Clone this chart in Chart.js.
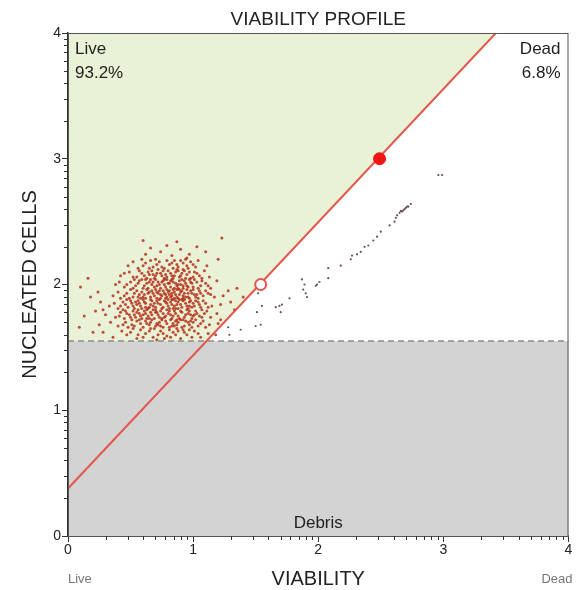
<!DOCTYPE html>
<html>
<head>
<meta charset="utf-8">
<script src="https://cdn.jsdelivr.net/npm/chart.js@4.4.0/dist/chart.umd.min.js"></script>
<style>
  body { margin: 0; background: #fff; }
  #wrap { width: 576px; height: 590px; }
</style>
</head>
<body>
<div id="wrap"><canvas id="viab"></canvas></div>
<script>
// valores
const majorTicks = [0, 1, 2, 3, 4];
const minorOffsets = [0.301, 0.477, 0.602, 0.699, 0.778, 0.845, 0.903, 0.954];
const debrisGate = 1.55;
const gateLine = [[0, 0.378], [3.42, 4]];
const gateOpen = [[1.54, 2.0]];
const gateFilled = [[2.49, 3.0]];
const regionText = { live: ['Live', '93.2%'], dead: ['Dead', '6.8%'], debris: 'Debris' };

const livePts = [
  [0.36,1.58],[0.47,1.60],[0.55,1.57],[0.62,1.61],[0.68,1.58],[0.74,1.63],[0.79,1.59],[0.84,1.62],[0.90,1.57],[0.95,1.60],
  [1.01,1.63],[1.06,1.58],[0.58,1.64],[0.71,1.56],[0.87,1.65],[0.66,1.65],[0.97,1.64],[0.43,1.63],[1.12,1.61],[0.52,1.65],
  [0.77,1.57],[0.93,1.62],[0.81,1.64],[0.28,1.62],[1.18,1.60],
  [0.40,1.67],[0.46,1.70],[0.51,1.68],[0.55,1.71],[0.60,1.66],[0.63,1.69],[0.67,1.72],[0.70,1.67],[0.73,1.70],[0.76,1.66],
  [0.79,1.69],[0.82,1.72],[0.85,1.67],[0.88,1.70],[0.91,1.66],[0.94,1.71],[0.97,1.68],[1.00,1.70],[1.04,1.67],[1.08,1.71],
  [1.13,1.68],[0.57,1.72],[0.65,1.68],[0.75,1.72],[0.86,1.71],[0.99,1.66],[0.48,1.66],[0.34,1.70],[1.20,1.69],[0.71,1.69],[0.83,1.67],
  [0.30,1.76],[0.38,1.74],[0.42,1.78],[0.45,1.73],[0.49,1.76],[0.52,1.79],[0.54,1.74],[0.57,1.77],[0.59,1.73],[0.61,1.79],
  [0.64,1.75],[0.66,1.78],[0.69,1.73],[0.72,1.76],[0.74,1.79],[0.77,1.74],[0.80,1.77],[0.83,1.73],[0.85,1.79],[0.88,1.75],
  [0.91,1.78],[0.93,1.74],[0.96,1.77],[0.99,1.73],[1.02,1.79],[1.05,1.75],[1.09,1.77],[1.14,1.74],[0.50,1.74],[0.56,1.80],
  [0.63,1.73],[0.68,1.80],[0.79,1.80],[0.87,1.72],[0.95,1.80],[1.01,1.76],[0.46,1.79],[0.60,1.76],[0.71,1.78],[0.82,1.76],
  [0.92,1.72],[1.07,1.80],[0.22,1.79],[1.19,1.77],
  [0.33,1.83],[0.40,1.81],[0.44,1.86],[0.48,1.82],[0.51,1.85],[0.53,1.81],[0.56,1.87],[0.58,1.83],[0.62,1.85],[0.64,1.81],
  [0.67,1.87],[0.70,1.82],[0.72,1.85],[0.75,1.81],[0.77,1.87],[0.80,1.83],[0.82,1.86],[0.84,1.81],[0.87,1.84],[0.89,1.88],
  [0.91,1.82],[0.94,1.85],[0.96,1.81],[0.98,1.87],[1.01,1.83],[1.04,1.86],[1.06,1.82],[1.10,1.85],[1.15,1.83],[0.55,1.84],
  [0.60,1.88],[0.66,1.84],[0.73,1.88],[0.79,1.85],[0.86,1.87],[0.93,1.88],[1.00,1.85],[0.69,1.85],[0.83,1.84],[0.97,1.83],
  [0.47,1.88],[0.26,1.86],[1.22,1.84],[0.62,1.82],[0.88,1.81],
  [0.36,1.91],[0.42,1.89],[0.47,1.93],[0.52,1.90],[0.55,1.95],[0.58,1.89],[0.61,1.92],[0.63,1.96],[0.66,1.90],[0.68,1.93],
  [0.71,1.89],[0.73,1.95],[0.75,1.91],[0.78,1.89],[0.80,1.94],[0.82,1.90],[0.84,1.96],[0.86,1.92],[0.88,1.89],[0.90,1.94],
  [0.92,1.91],[0.95,1.96],[0.97,1.89],[0.99,1.93],[1.02,1.90],[1.05,1.95],[1.08,1.91],[1.12,1.93],[0.65,1.94],[0.70,1.96],
  [0.77,1.93],[0.83,1.93],[0.89,1.96],[0.94,1.90],[1.00,1.96],[0.57,1.92],[0.74,1.89],[0.81,1.92],[0.87,1.90],[0.91,1.88],
  [0.79,1.96],[1.17,1.90],[0.50,1.96],[0.60,1.90],[0.85,1.89],[0.96,1.93],[1.03,1.92],[0.24,1.94],[1.24,1.91],
  [0.38,2.00],[0.45,1.98],[0.50,2.02],[0.54,1.99],[0.57,2.03],[0.60,1.97],[0.63,2.01],[0.66,2.04],[0.69,1.98],[0.72,2.02],
  [0.74,1.97],[0.77,2.00],[0.79,2.04],[0.82,1.98],[0.84,2.02],[0.87,1.99],[0.89,2.03],[0.92,1.97],[0.94,2.01],[0.97,2.04],
  [1.00,1.98],[1.03,2.02],[1.06,1.99],[1.10,2.01],[0.67,2.00],[0.76,2.03],[0.85,1.97],[0.91,2.04],[0.99,2.01],[0.81,2.01],
  [0.88,2.00],[0.71,1.99],[0.62,2.04],[1.14,1.97],[0.95,1.99],[0.53,2.04],[1.19,2.03],[0.16,2.05],
  [0.42,2.07],[0.49,2.10],[0.55,2.06],[0.59,2.09],[0.63,2.05],[0.67,2.11],[0.70,2.07],[0.74,2.09],[0.77,2.05],[0.80,2.11],
  [0.83,2.07],[0.86,2.10],[0.89,2.06],[0.92,2.12],[0.95,2.08],[0.98,2.05],[1.01,2.10],[1.05,2.07],[1.09,2.11],[0.72,2.12],
  [0.84,2.05],[0.91,2.09],[0.78,2.08],[0.65,2.08],[1.13,2.06],[0.87,2.12],
  [0.48,2.15],[0.56,2.13],[0.62,2.17],[0.68,2.14],[0.73,2.18],[0.77,2.13],[0.81,2.16],[0.85,2.19],[0.88,2.14],[0.92,2.17],
  [0.96,2.13],[1.00,2.16],[1.04,2.19],[0.70,2.20],[0.84,2.13],[0.94,2.20],[1.11,2.15],[0.59,2.20],
  [0.62,2.24],[0.74,2.26],[0.83,2.23],[0.90,2.28],[0.97,2.24],[1.03,2.30],[0.79,2.31],[0.66,2.29],[1.10,2.26],[0.87,2.34],
  [0.60,2.35],[1.23,2.37],[0.95,2.21],
  [0.10,1.98],[0.13,1.75],[0.20,1.62],[0.09,1.66],[0.18,1.90],[0.28,1.80],[0.25,1.68],
  [1.22,1.72],[1.30,1.86],[1.33,1.80],[1.28,1.95],[1.20,2.20],[1.35,1.97],[1.40,1.90],
  // segunda pasada, nucleo denso
  [0.50,1.62],[0.60,1.58],[0.65,1.63],[0.72,1.60],[0.82,1.58],[0.86,1.60],[0.92,1.64],[0.99,1.58],[1.04,1.61],[0.76,1.61],
  [0.56,1.60],[0.88,1.63],
  [0.44,1.68],[0.53,1.67],[0.58,1.69],[0.62,1.71],[0.69,1.65],[0.72,1.68],[0.78,1.71],[0.81,1.66],[0.84,1.69],[0.90,1.72],
  [0.93,1.67],[0.96,1.70],[1.02,1.72],[1.06,1.69],[1.10,1.66],[0.74,1.67],[0.87,1.68],[0.66,1.70],[0.98,1.71],
  [0.41,1.75],[0.47,1.77],[0.53,1.76],[0.55,1.78],[0.58,1.75],[0.62,1.77],[0.65,1.73],[0.67,1.76],[0.70,1.78],[0.73,1.74],
  [0.76,1.77],[0.78,1.75],[0.81,1.79],[0.84,1.75],[0.86,1.77],[0.89,1.73],[0.90,1.79],[0.94,1.76],[0.97,1.79],[1.00,1.75],
  [1.03,1.77],[1.07,1.74],[1.11,1.79],[0.51,1.72],[0.75,1.73],[0.98,1.76],[0.44,1.80],[0.63,1.80],
  [0.37,1.85],[0.42,1.83],[0.46,1.84],[0.50,1.87],[0.52,1.83],[0.57,1.85],[0.59,1.81],[0.61,1.86],[0.65,1.82],[0.68,1.83],
  [0.71,1.87],[0.74,1.84],[0.76,1.82],[0.78,1.86],[0.81,1.81],[0.83,1.88],[0.85,1.83],[0.88,1.86],[0.90,1.84],[0.92,1.87],
  [0.95,1.83],[0.97,1.86],[0.99,1.82],[1.02,1.87],[1.05,1.84],[1.08,1.87],[1.12,1.82],[0.54,1.86],[0.70,1.80],[0.86,1.81],[0.80,1.88],
  [0.40,1.94],[0.45,1.91],[0.49,1.89],[0.53,1.93],[0.56,1.90],[0.59,1.94],[0.62,1.89],[0.64,1.93],[0.67,1.95],[0.69,1.91],
  [0.72,1.93],[0.74,1.92],[0.76,1.95],[0.78,1.92],[0.81,1.95],[0.83,1.91],[0.85,1.94],[0.87,1.96],[0.89,1.92],[0.91,1.95],
  [0.93,1.93],[0.96,1.90],[0.98,1.95],[1.01,1.92],[1.04,1.89],[1.06,1.93],[1.10,1.95],[1.14,1.92],[0.66,1.88],[0.79,1.90],
  [0.92,1.89],[0.84,1.88],[0.71,1.94],
  [0.41,2.02],[0.47,2.00],[0.52,1.97],[0.56,2.01],[0.59,2.04],[0.61,1.99],[0.64,1.97],[0.68,2.02],[0.70,2.04],[0.73,2.00],
  [0.75,2.02],[0.78,1.98],[0.80,2.01],[0.83,2.04],[0.86,2.01],[0.88,1.97],[0.90,2.00],[0.93,2.03],[0.96,1.98],[0.98,2.02],
  [1.01,2.04],[1.04,1.97],[1.07,2.03],[1.12,1.99],[0.65,2.02],[0.82,2.03],[0.92,1.99],[0.77,2.04],
  [0.45,2.09],[0.52,2.06],[0.57,2.11],[0.61,2.07],[0.64,2.10],[0.69,2.05],[0.71,2.09],[0.76,2.11],[0.79,2.06],[0.82,2.09],
  [0.85,2.07],[0.88,2.11],[0.90,2.07],[0.94,2.05],[0.97,2.10],[1.00,2.06],[1.03,2.09],[1.07,2.05],[0.75,2.07],[0.93,2.11],[0.68,2.08],
  [0.52,2.18],[0.60,2.15],[0.65,2.13],[0.71,2.16],[0.75,2.14],[0.79,2.19],[0.83,2.17],[0.87,2.16],[0.90,2.19],[0.98,2.18],
  [1.02,2.14],[0.66,2.19],[0.95,2.15]
];

const deadPts = [
  [1.50,1.67],[1.54,1.68],[1.51,1.78],[1.55,1.83],[1.69,1.83],[1.71,1.84],[1.70,1.78],[1.77,1.89],[1.87,2.04],[1.89,2.00],
  [1.88,1.96],[1.90,1.93],[1.91,1.90],[1.98,1.99],[1.99,2.00],[2.01,2.02],[2.08,2.13],[2.08,2.05],[2.18,2.15],[2.26,2.20],
  [2.27,2.23],[2.31,2.24],[2.34,2.26],[2.37,2.30],[2.40,2.31],[2.44,2.35],[2.47,2.38],[2.50,2.42],[2.57,2.47],[2.61,2.50],
  [2.62,2.53],[2.63,2.55],[2.65,2.57],[2.67,2.58],[2.69,2.60],[2.71,2.62],[2.74,2.64],[2.68,2.59],[2.70,2.61],[2.72,2.62],
  [2.66,2.585],[2.96,2.87],[2.99,2.87],[1.28,1.66],[1.38,1.64],[1.29,1.60],[1.52,1.93],[1.66,1.82]
];

// minor ticks + regiones + textos
const viabPlugin = {
  id: 'viabPlugin',
  beforeDatasetsDraw(chart) {
    const { ctx, chartArea: a, scales: { x, y } } = chart;
    ctx.save();
    // verde (vivos)
    const x0 = (debrisGate - gateLine[0][1]) * (gateLine[1][0] - gateLine[0][0]) / (gateLine[1][1] - gateLine[0][1]) + gateLine[0][0];
    ctx.fillStyle = '#e9f2d6';
    ctx.beginPath();
    ctx.moveTo(x.getPixelForValue(0), y.getPixelForValue(debrisGate));
    ctx.lineTo(x.getPixelForValue(0), y.getPixelForValue(4));
    ctx.lineTo(x.getPixelForValue(gateLine[1][0]), y.getPixelForValue(4));
    ctx.lineTo(x.getPixelForValue(x0), y.getPixelForValue(debrisGate));
    ctx.closePath();
    ctx.fill();
    // gris (debris)
    ctx.fillStyle = '#d3d3d3';
    const yg = y.getPixelForValue(debrisGate);
    ctx.fillRect(a.left, yg, a.right - a.left, a.bottom - yg);
    ctx.strokeStyle = '#8c8c8c';
    ctx.lineWidth = 1.5;
    ctx.setLineDash([6, 4]);
    ctx.beginPath();
    ctx.moveTo(a.left, yg);
    ctx.lineTo(a.right, yg);
    ctx.stroke();
    ctx.setLineDash([]);
    ctx.restore();
  },
  afterDraw(chart) {
    const { ctx, chartArea: a, scales: { x, y } } = chart;
    ctx.save();
    ctx.strokeStyle = '#555';
    ctx.lineWidth = 1;
    ctx.strokeRect(a.left + 0.5, a.top + 0.5, a.right - a.left - 1, a.bottom - a.top);
    // minor ticks
    ctx.strokeStyle = '#333';
    ctx.beginPath();
    for (let k = 0; k < 4; k++) {
      minorOffsets.forEach(m => {
        const px = Math.round(x.getPixelForValue(k + m)) + 0.5;
        ctx.moveTo(px, a.bottom);
        ctx.lineTo(px, a.bottom + 4);
        const py = Math.round(y.getPixelForValue(k + m)) + 0.5;
        ctx.moveTo(a.left, py);
        ctx.lineTo(a.left - 4, py);
      });
    }
    ctx.stroke();

    ctx.fillStyle = '#222';
    ctx.font = '17px "Liberation Sans", Arial, sans-serif';
    ctx.textBaseline = 'alphabetic';
    ctx.textAlign = 'left';
    ctx.fillText(regionText.live[0], a.left + 7, a.top + 21);
    ctx.fillText(regionText.live[1], a.left + 7, a.top + 45);
    ctx.textAlign = 'right';
    ctx.fillText(regionText.dead[0], a.right - 8, a.top + 21);
    ctx.fillText(regionText.dead[1], a.right - 8, a.top + 45);
    ctx.textAlign = 'center';
    ctx.fillText(regionText.debris, (a.left + a.right) / 2, a.bottom - 8);

    // titulos
    ctx.font = '19px "Liberation Sans", Arial, sans-serif';
    ctx.fillText('VIABILITY PROFILE', (a.left + a.right) / 2, 25);
    ctx.font = '20px "Liberation Sans", Arial, sans-serif';
    ctx.fillText('VIABILITY', (a.left + a.right) / 2, 585);
    ctx.save();
    ctx.translate(36, (a.top + a.bottom) / 2);
    ctx.rotate(-Math.PI / 2);
    ctx.fillText('NUCLEATED CELLS', 0, 0);
    ctx.restore();
    ctx.fillStyle = '#777';
    ctx.font = '13px "Liberation Sans", Arial, sans-serif';
    ctx.textAlign = 'left';
    ctx.fillText('Live', a.left, 583);
    ctx.textAlign = 'right';
    ctx.fillText('Dead', a.right + 4, 583);
    ctx.restore();
  }
};

const ctx = document.getElementById('viab').getContext('2d');
const chart = new Chart(ctx, {
  type: 'scatter',
  data: {
    datasets: [
      {
        label: 'Gate',
        type: 'line',
        data: gateLine.map(p => ({ x: p[0], y: p[1] })),
        borderColor: '#e2574c',
        borderWidth: 2,
        pointRadius: 0,
        fill: false,
        order: 2
      },
      {
        label: 'Live',
        data: livePts.map(p => ({ x: p[0], y: p[1] })),
        pointRadius: 1.5,
        pointBorderWidth: 0,
        backgroundColor: 'rgba(180,48,26,0.85)',
        order: 3
      },
      {
        label: 'Dead',
        data: deadPts.map(p => ({ x: p[0], y: p[1] })),
        pointRadius: 1.1,
        pointBorderWidth: 0,
        backgroundColor: 'rgba(80,50,50,0.85)',
        order: 3
      },
      {
        label: 'Open',
        data: gateOpen.map(p => ({ x: p[0], y: p[1] })),
        pointRadius: 5.5,
        borderWidth: 2,
        borderColor: '#e2574c',
        backgroundColor: '#fff',
        order: 1
      },
      {
        label: 'Filled',
        data: gateFilled.map(p => ({ x: p[0], y: p[1] })),
        pointRadius: 6,
        borderWidth: 1,
        borderColor: '#f01515',
        backgroundColor: '#f01515',
        order: 0
      }
    ]
  },
  options: {
    responsive: true,
    maintainAspectRatio: false,
    animation: false,
    layout: { padding: { top: 33, right: 6, left: 0, bottom: 0 } },
    plugins: {
      legend: { display: false },
      tooltip: { enabled: false }
    },
    scales: {
      x: {
        type: 'linear', min: 0, max: 4,
        afterBuildTicks: s => { s.ticks = majorTicks.map(v => ({ value: v })); },
        afterFit: s => { s.height = 54; },
        ticks: { color: '#222', font: { size: 14, family: '"Liberation Sans", Arial' }, padding: 0 },
        grid: { drawOnChartArea: false, tickLength: 6, color: '#333' },
        border: { color: '#333', width: 1.5 }
      },
      y: {
        type: 'linear', min: 0, max: 4,
        afterBuildTicks: s => { s.ticks = majorTicks.map(v => ({ value: v })); },
        afterFit: s => { s.width = 68; },
        ticks: { color: '#222', font: { size: 14, family: '"Liberation Sans", Arial' }, padding: 1 },
        grid: { drawOnChartArea: false, tickLength: 6, color: '#333' },
        border: { color: '#333', width: 1.5 }
      }
    }
  },
  plugins: [viabPlugin]
});
</script>
</body>
</html>
